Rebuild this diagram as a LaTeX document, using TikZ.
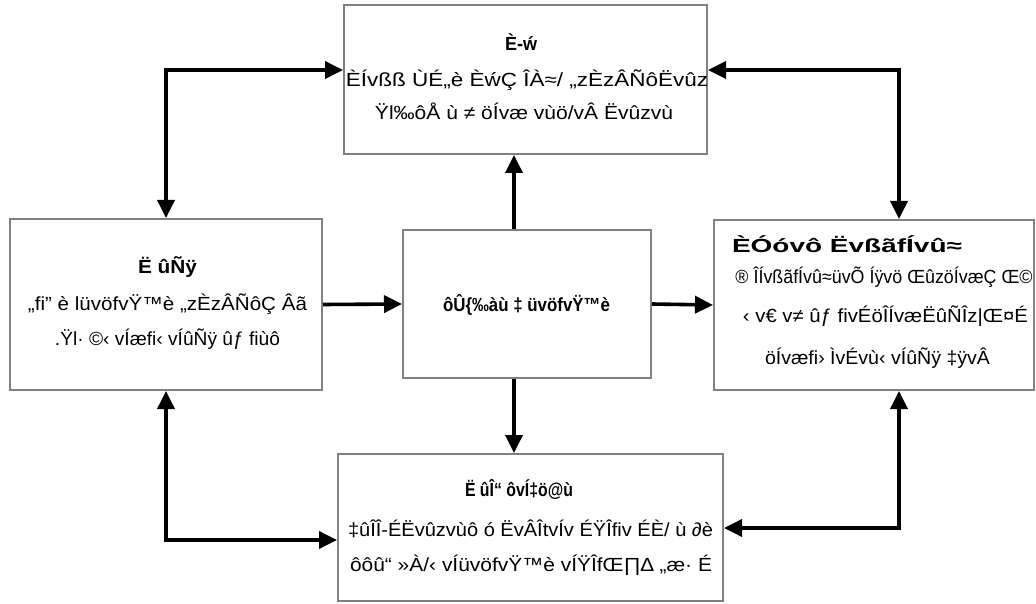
\documentclass[tikz,border=0pt]{standalone}
\usepackage{fontspec}
\setmainfont{Liberation Sans}
\usepackage{graphicx}
\usetikzlibrary{arrows.meta}
\newcommand{\fitw}[2]{\resizebox{#1pt}{\height}{#2}}
\tikzset{
  box/.style={draw=black!50, line width=2pt, fill=white},
  txt/.style={inner sep=0pt, anchor=base, font=\fontsize{19}{22}\selectfont},
  ttl/.style={txt, font=\fontsize{19}{22}\selectfont\bfseries},
  arr/.style={line width=3.6pt, -{Triangle[length=18pt,width=17pt]}},
  darr/.style={line width=3.6pt, {Triangle[length=18pt,width=17pt]}-{Triangle[length=18pt,width=17pt]}}
}
\begin{document}
\begin{tikzpicture}[x=1pt,y=-1pt]
\useasboundingbox (0,0) rectangle (1036,604);
% boxes
\node[box, minimum width=363pt, minimum height=149pt] (t) at (525.5,79.5) {};
\node[box, minimum width=312pt, minimum height=171pt] (l) at (166,304.5) {};
\node[box, minimum width=248pt, minimum height=148pt] (c) at (527,304) {};
\node[box, minimum width=320pt, minimum height=170pt] (r) at (874,305) {};
\node[box, minimum width=385pt, minimum height=147pt] (b) at (530.5,527.5) {};
% texts: top
\node[ttl] (t1) at (521,51) {\fitw{32}{È-ẃ}};
\node[txt] (t2) at (527,87) {\fitw{362}{ÈÍvßß ÙÉ„è ÈẃÇ ÎÀ≈/ „zÈzÂÑôËvûz}};
\node[txt] (t3) at (524,120) {\fitw{298}{Ÿl‰ôÅ ù ≠ öÍvæ vùö/vÂ Ëvûzvù}};
% left
\node[ttl] (l1) at (167.5,273) {\fitw{59}{Ë ûÑÿ}};
\node[txt] (l2) at (167.5,310) {\fitw{279}{„fi” è lüvöfvŸ™è „zÈzÂÑôÇ Âã}};
\node[txt] (l3) at (167.5,345) {\fitw{225}{.Ÿl· ©‹ vÍæfi‹ vÍûÑÿ ûƒ fiùô}};
% center
\node[ttl] (c1) at (526.5,311) {\fitw{167}{ôÛ\{‰àù ‡ üvöfvŸ™è}};
% right
\node[ttl] (r1) at (847,253) {\fitw{230}{ÈÓóvô ËvßãfÍvû≈}};
\node[txt] (r2) at (884,283) {\fitw{297}{® ÎÍvßãfÍvû≈üvÕ Íÿvö ŒûzöÍvæÇ Œ©}};
\node[txt] (r3) at (885.5,322) {\fitw{285}{‹ v€ v≠ ûƒ fivÉöÎÍvæËûÑÎz|Œ¤É}};
\node[txt] (r4) at (877.5,364) {\fitw{225}{öÍvæfi› ÌvÉvù‹ vÍûÑÿ ‡ÿvÂ}};
% bottom
\node[ttl] (b1) at (519,496) {\fitw{108}{Ë ûÎ“ ôvÍ‡ö@ù}};
\node[txt] (b2) at (530.5,536) {\fitw{365}{‡ûÎÎ-ÉËvûzvùô ó ËvÂÎtvÍv ÉŸÎfiv ÉÈ/ ù ∂è}};
\node[txt] (b3) at (531,571) {\fitw{362}{ôôû“ »À/‹ vÍüvöfvŸ™è vÍŸÎfŒ∏∆ „æ· É}};
% helper coordinates
\coordinate (vx) at (514,0);
\coordinate (lx) at (166,0);
\coordinate (rx) at (899,0);
\coordinate (hy) at (0,70);
\coordinate (bly) at (0,540);
\coordinate (bry) at (0,528);
% connectors
\draw[arr] (vx |- c.north) -- (vx |- t.south);
\draw[arr] (vx |- c.south) -- (vx |- b.north);
\draw[arr] (l.east) -- (c.west);
\draw[arr] (c.east) -- (r.west);
\draw[darr] (hy -| t.west) -| (lx |- l.north);
\draw[darr] (hy -| t.east) -| (rx |- r.north);
\draw[darr] (lx |- l.south) |- (bly -| b.west);
\draw[darr] (rx |- r.south) |- (bry -| b.east);
\end{tikzpicture}
\end{document}
